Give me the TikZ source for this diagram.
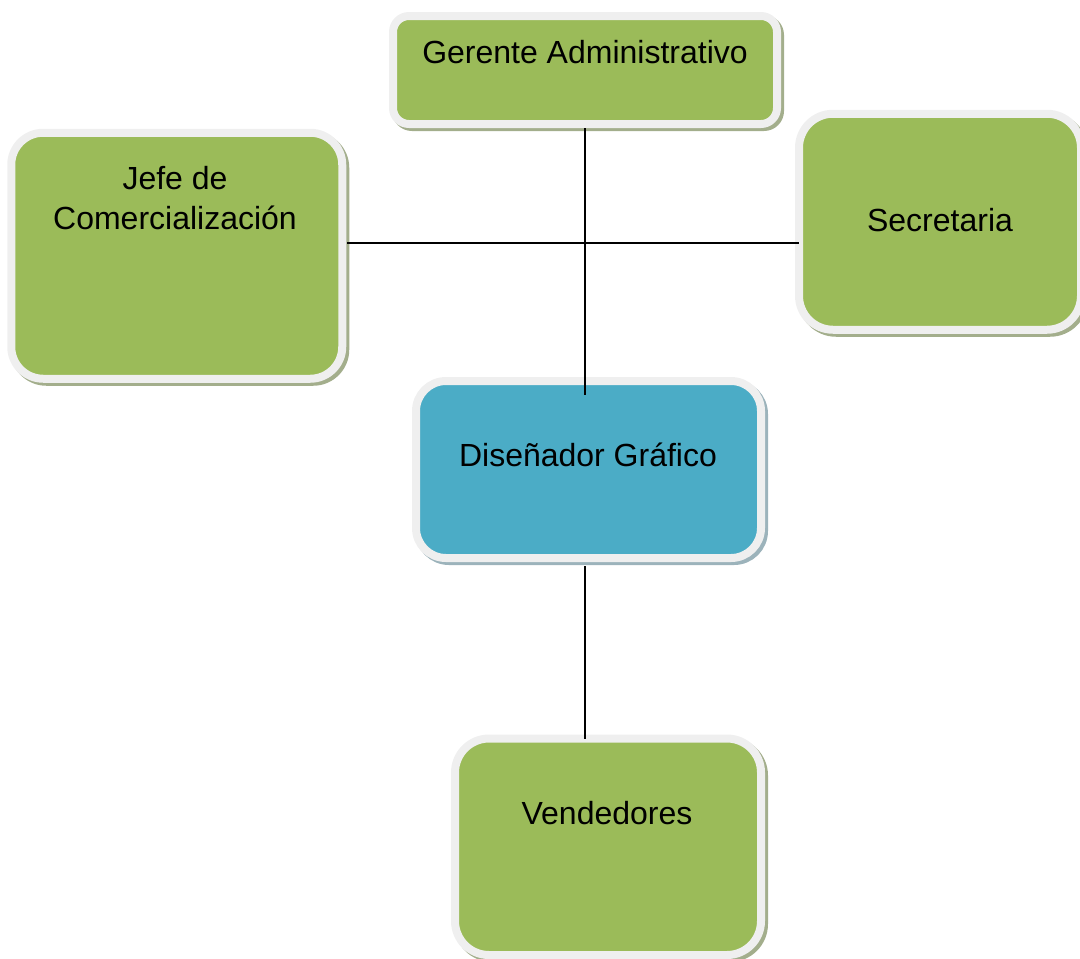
\documentclass[tikz,border=0pt]{standalone}
\usepackage{fontspec}
\setmainfont{Liberation Sans}
\definecolor{ogreen}{HTML}{9BBB59}
\definecolor{oblue}{HTML}{4BACC6}
\definecolor{bordgray}{HTML}{EFEFEF}
\definecolor{shgreen}{HTML}{A3AE8C}
\definecolor{shblue}{HTML}{9CB3BB}
\tikzset{
  orgbox/.style n args={3}{draw=bordgray, line width=8pt, fill=#1, rounded corners=#3, inner sep=0pt, outer sep=0pt,
    preaction={draw=#2, fill=#2, transform canvas={shift={(3pt,-3pt)}}}},
  lbl/.style={font=\fontsize{32}{40}\selectfont, align=center, inner sep=0pt},
  conn/.style={draw=black, line width=2.4pt}
}
\begin{document}
\begin{tikzpicture}[x=1pt,y=-1pt]
\useasboundingbox (0,0) rectangle (1080,959);
\clip (0,0) rectangle (1080,959);
% boxes
\node[orgbox={ogreen}{shgreen}{16pt}, minimum width=384pt, minimum height=108pt] (g) at (585,70) {};
\node[orgbox={ogreen}{shgreen}{32pt}, minimum width=331pt, minimum height=246pt] (j) at (176.75,255.75) {};
\node[orgbox={ogreen}{shgreen}{34pt}, minimum width=282pt, minimum height=216pt] (s) at (940,221.75) {};
\node[orgbox={oblue}{shblue}{30pt}, minimum width=345pt, minimum height=177pt] (d) at (588.5,469.5) {};
\node[orgbox={ogreen}{shgreen}{34pt}, minimum width=306pt, minimum height=216.5pt] (v) at (608,846.75) {};
% labels
\node[lbl] (gt) at (585,52) {Gerente Administrativo};
\node[lbl] (jt) at (175,198) {Jefe de\\Comercialización};
\node[lbl] (st) at (940,220) {Secretaria};
\node[lbl] (dt) at (588,455) {Diseñador Gráfico};
\node[lbl] (vt) at (607,813) {Vendedores};
% connectors
\coordinate (cross) at (585,243);
\coordinate (gb) at ([yshift=-4pt]g.south);
\coordinate (din) at (585,395);
\coordinate (jr) at ([xshift=5pt]j.east);
\coordinate (sl) at (s.west);
\coordinate (db) at ([yshift=-8pt]d.south);
\coordinate (vtop) at (v.north);
\draw[conn] (cross |- gb) -- (din);
\draw[conn] (jr |- cross) -- (sl |- cross);
\draw[conn] (cross |- db) -- (cross |- vtop);
\end{tikzpicture}
\end{document}
